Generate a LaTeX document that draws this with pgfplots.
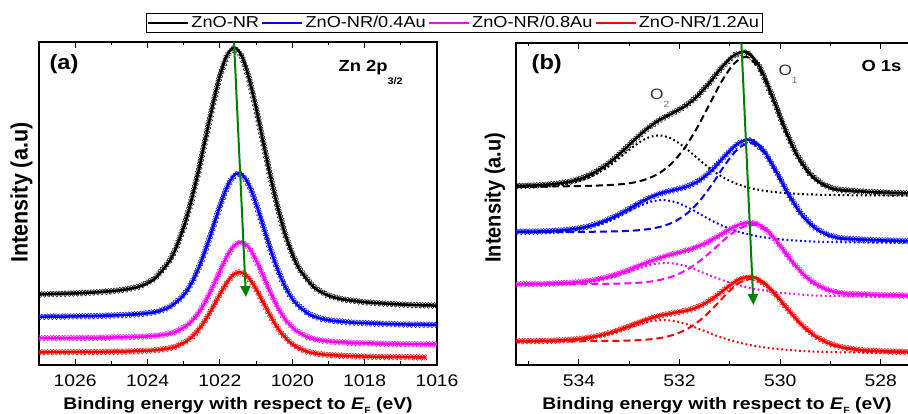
\documentclass[border=0pt]{standalone}
\usepackage{fontspec}
\setmainfont{Liberation Sans}[FakeStretch=1.15]
\newfontfamily\plainsans{Liberation Sans}
\usepackage{graphicx}
\usepackage{pgfplots}
\usepackage{pgfplotstable}
\pgfplotsset{compat=1.18}
\usetikzlibrary{arrows.meta,decorations.markings}
\definecolor{dgreen}{RGB}{0,128,0}
\definecolor{mag}{RGB}{255,0,255}
\definecolor{pblue}{RGB}{0,0,255}
\definecolor{pred}{RGB}{255,0,0}

\tikzset{
  dataA/.style={postaction={decorate, decoration={markings, mark=between positions 0 and 1 step 2.9bp with {\draw[#1, line width=0.45bp] (0bp,1.6bp) circle (1.3bp);}}}},
  dataB/.style={postaction={decorate, decoration={markings, mark=between positions 0.002 and 1 step 4.1bp with {\draw[#1, line width=0.45bp] (0bp,-1.7bp) circle (1.3bp);}}}},
}

\pgfplotsset{
  panel/.style={
    scale only axis, x dir=reverse, ytick=\empty, ymin=0,
    axis line style={line width=1.3bp},
    tick style={line width=1bp, black},
    major tick length=6bp, minor tick length=3.5bp,
    tick align=inside, xtick pos=both,
    /pgf/number format/assume math mode=true,
    /pgf/number format/set thousands separator={},
    xticklabel style={font=\fontsize{16.8bp}{18bp}\selectfont, inner sep=0pt, anchor=north, yshift=-10bp},
    clip=true,
  },
  tot/.style={line width=2.5bp, smooth, forget plot},
  pts/.style={line width=0.3bp, sharp plot, forget plot, dataA=#1, dataB=#1},
  dsh/.style={line width=2bp, smooth, dash pattern=on 7bp off 4bp, forget plot},
  dtt/.style={line width=2bp, smooth, dash pattern=on 1.8bp off 2.7bp, forget plot},
}

% ---------- Zn 2p3/2 spectra ----------
\pgfplotstableread{
x y
1027.0 70.6
1026.5 71.1
1026.0 71.6
1025.5 72.5
1025.0 73.8
1024.6 75.5
1024.2 78.7
1023.8 86.3
1023.4 103.5
1023.2 117.9
1023.0 137.5
1022.8 162.6
1022.6 192.4
1022.4 225.6
1022.2 259.1
1022.0 289.1
1021.8 310.0
1021.6 317.5
1021.4 309.2
1021.2 287.3
1021.0 256.5
1020.8 221.8
1020.6 187.6
1020.4 156.8
1020.2 130.9
1020.0 110.7
1019.8 95.5
1019.4 77.5
1019.0 69.3
1018.6 65.6
1018.0 62.8
1017.5 61.5
1017.0 60.5
1016.5 59.8
1016.0 59.4
}\lblack

\pgfplotstableread{
x y
1027 48.2
1026.21 48.5
1025.77 48.8
1025.33 49.1
1024.89 49.6
1024.455 50.4
1024.105 51.3
1023.755 53.1
1023.405 57.5
1023.055 67.5
1022.88 75.8
1022.705 87.3
1022.53 101.9
1022.355 119.3
1022.18 138.6
1022.005 158.1
1021.83 175.5
1021.655 187.7
1021.48 192
1021.305 187.1
1021.13 174.3
1020.955 156.1
1020.78 135.8
1020.605 115.7
1020.43 97.7
1020.255 82.5
1020.08 70.6
1019.905 61.7
1019.555 51.1
1019.205 46.3
1018.855 44.1
1018.33 42.4
1017.89 41.7
1017.455 41.1
1017.02 40.6
1016.58 40.4
1016 40.1
}\lblue

\pgfplotstableread{
x y
1027 26.8
1025.875 27.0
1025.46 27.2
1025.05 27.4
1024.64 27.8
1024.225 28.2
1023.895 28.8
1023.565 30.1
1023.235 33.0
1022.905 39.7
1022.74 45.3
1022.575 52.9
1022.41 62.7
1022.245 74.3
1022.08 87.2
1021.915 100.3
1021.75 112.0
1021.585 120.1
1021.42 123
1021.255 119.7
1021.09 111.0
1020.925 98.9
1020.76 85.2
1020.595 71.7
1020.43 59.5
1020.265 49.3
1020.10 41.3
1019.935 35.3
1019.605 28.2
1019.275 24.9
1018.945 23.4
1018.45 22.4
1018.0375 21.8
1017.625 21.4
1017.2125 21.1
1016.8 20.9
1016 20.6
}\lmag

\pgfplotstableread{
x y
1027 12.7
1025.905 12.9
1025.49 13.0
1025.08 13.2
1024.67 13.4
1024.255 13.9
1023.925 14.4
1023.595 15.5
1023.265 17.8
1022.935 23.4
1022.77 28.2
1022.605 34.5
1022.44 42.6
1022.275 52.4
1022.11 63.2
1021.945 74.1
1021.78 83.8
1021.615 90.6
1021.45 93.0
1021.285 90.2
1021.12 83.0
1020.955 72.9
1020.79 61.5
1020.625 50.2
1020.46 40.0
1020.295 31.5
1020.13 24.9
1019.965 19.8
1019.635 13.8
1019.305 11.2
1018.975 9.9
1018.48 9.0
1018.0675 8.5
1017.655 8.1
1017.2425 7.9
1016.83 7.8
1016.3 7.6
}\lred

% ---------- O 1s spectra: x, total, O1 component, O2 component ----------
\pgfplotstableread{
x t a b
535.41 178.8 178.0 177.8
535.16 179.1 178.1 178.0
534.91 179.5 178.2 178.3
534.66 180.2 178.4 178.8
534.41 181.4 178.6 179.8
534.16 183.5 178.8 181.8
533.91 187.3 179.0 185.2
533.66 193.2 179.4 190.8
533.41 201.6 179.9 198.6
533.16 212.4 180.8 208.5
532.91 224.3 182.5 218.7
532.66 235.6 185.8 226.6
532.41 244.6 191.6 229.6
532.16 251.3 201.4 226.4
531.91 258.1 216.3 218.1
531.66 268.0 236.4 207.5
531.41 281.8 260.1 197.1
531.16 297.6 283.8 188.5
530.91 309.9 301.7 182.1
530.66 312.8 308.0 177.8
530.41 298.5 295.7 175.0
530.16 269.1 267.3 173.2
529.91 236.5 235.2 172.0
529.66 209.3 208.3 171.1
529.41 191.1 190.3 170.6
529.16 180.9 180.2 170.2
528.91 175.8 175.2 170.0
528.66 174.5 174.0 169.8
528.41 173.6 173.1 169.6
528.16 172.9 172.5 169.6
527.91 172.4 172.1 169.5
527.66 172.0 171.6 169.4
527.41 171.6 171.3 169.3
527.16 171.3 171.0 169.2
}\tblack

\pgfplotstableread{
x t a b
535.33 133.1 132.6 132.5
535.08 133.3 132.6 132.6
534.83 133.5 132.7 132.8
534.58 133.9 132.8 133.2
534.33 134.7 132.9 133.8
534.08 136.0 133.0 135.0
533.83 138.3 133.1 137.2
533.58 142.1 133.4 140.7
533.33 147.3 133.6 145.6
533.08 153.9 134.0 151.8
532.83 161.1 134.7 158.2
532.58 167.6 136.2 163.1
532.33 172.3 138.9 165.0
532.08 175.3 143.9 162.8
531.83 178.8 152.4 157.5
531.58 185.2 165.3 150.5
531.33 196.1 182.4 143.6
531.08 210.0 201.3 137.8
530.83 221.7 216.5 133.3
530.58 225.0 222.0 130.0
530.33 214.7 212.9 127.7
530.08 193.6 192.4 126.1
529.83 170.3 169.5 124.9
529.58 150.9 150.3 124.0
529.33 137.9 137.4 123.4
529.08 130.6 130.1 123.1
528.83 126.9 126.5 122.8
528.58 126.0 125.6 122.6
528.33 125.3 125.0 122.5
528.08 124.8 124.5 122.4
527.83 124.4 124.2 122.3
527.58 124.1 123.9 122.3
527.33 123.8 123.6 122.2
527.08 123.6 123.4 122.1
}\tblue

\pgfplotstableread{
x t a b
535.5 80.7 80.4 80.4
535.25 80.8 80.5 80.4
535.0 81.0 80.5 80.4
534.75 81.1 80.6 80.6
534.5 81.5 80.7 80.8
534.25 82.0 80.8 81.2
534.0 82.9 80.9 82.0
533.75 84.5 81.0 83.5
533.5 87.0 81.2 85.9
533.25 90.6 81.3 89.1
533.0 95.2 81.7 93.2
532.75 100.3 82.5 97.5
532.5 105.2 84.0 100.8
532.25 109.3 86.8 102.0
532.0 112.6 91.5 100.5
531.75 116.2 98.5 96.7
531.5 121.3 107.9 91.7
531.25 128.2 118.9 86.7
531.0 135.7 129.9 82.4
530.75 141.3 137.8 78.8
530.5 142.0 140.0 76.0
530.25 134.3 133.1 73.9
530.0 119.2 118.4 72.3
529.75 102.6 102.0 71.1
529.5 88.8 88.4 70.1
529.25 79.5 79.1 69.4
529.0 74.2 73.9 69.0
528.75 71.6 71.3 68.7
528.5 70.9 70.7 68.6
528.25 70.4 70.2 68.4
528.0 70.0 69.8 68.4
527.75 69.7 69.6 68.3
527.5 69.5 69.3 68.2
527.25 69.2 69.1 68.1
527.0 69.0 68.9 68.0
}\tmag

\pgfplotstableread{
x t a b
535.30 23.8 23.4 23.4
535.05 23.9 23.5 23.4
534.80 24.0 23.5 23.6
534.55 24.3 23.6 23.8
534.30 24.8 23.6 24.2
534.05 25.7 23.7 25.0
533.80 27.3 23.8 26.5
533.55 29.8 24.0 28.9
533.30 33.3 24.1 32.1
533.05 37.8 24.4 36.3
532.80 42.7 24.9 40.5
532.55 47.1 25.9 43.8
532.30 50.3 27.8 45.0
532.05 52.6 31.4 43.5
531.80 55.1 37.4 39.8
531.55 59.9 46.5 34.9
531.30 67.8 58.6 29.9
531.05 77.7 71.9 25.7
530.80 86.0 82.5 22.2
530.55 88.0 86.0 19.5
530.30 81.3 80.1 17.5
530.05 68.0 67.3 16.0
529.80 52.7 52.2 14.9
529.55 39.0 38.5 14.0
529.30 28.7 28.3 13.4
529.05 22.0 21.7 13.0
528.80 18.0 17.7 12.7
528.55 15.8 15.6 12.6
528.30 14.5 14.3 12.4
528.05 13.9 13.7 12.4
527.80 13.5 13.3 12.3
527.55 13.2 13.1 12.2
527.30 12.9 12.8 12.1
527.05 12.8 12.7 12.0
}\tred

\begin{document}
\begin{tikzpicture}
\useasboundingbox (0,0) rectangle (908bp,414bp);

% ---------------- panel (a) ----------------
\begin{axis}[panel,
  at={(39bp,49bp)}, anchor=south west,
  width=398bp, height=323bp,
  xmin=1016, xmax=1027, ymax=323,
  xtick={1016,1018,1020,1022,1024,1026},
  minor xtick={1017,1019,1021,1023,1025},
  xlabel={\bfseries Binding energy with respect to \textit{E}\raisebox{-4bp}{\fontsize{9bp}{9bp}\selectfont F} (eV)},
  xlabel style={at={(axis description cs:0.5,0)}, anchor=base, yshift=-44bp, font=\fontsize{16.8bp}{18bp}\selectfont},
  ylabel={\scalebox{1}[1.1]{\plainsans\bfseries\fontsize{21.5bp}{22bp}\selectfont Intensity (a.u)}},
  ylabel style={at={(axis description cs:0,0.534)}, anchor=center, yshift=17.5bp},
  legend style={at={(axis description cs:1.0427,1.0588)}, anchor=center,
    legend columns=4, draw=black, line width=0.8bp, fill=white,
    font=\fontsize{15.8bp}{17bp}\selectfont, inner sep=1bp},
  legend cell align=left,
  legend image code/.code={\draw[#1, line width=2.5bp] (0bp,0bp) -- (40bp,0bp);},
]
\addlegendimage{black}\addlegendentry{ZnO-NR}
\addlegendimage{pblue}\addlegendentry{ZnO-NR/0.4Au}
\addlegendimage{mag}\addlegendentry{ZnO-NR/0.8Au}
\addlegendimage{pred}\addlegendentry{ZnO-NR/1.2Au}

\addplot[black, tot] table[x=x,y=y]{\lblack};
\addplot[black, pts=black] table[x=x,y=y]{\lblack};
\addplot[pblue, tot] table[x=x,y=y]{\lblue};
\addplot[pblue, pts=pblue] table[x=x,y=y]{\lblue};
\addplot[mag, tot] table[x=x,y=y]{\lmag};
\addplot[mag, pts=mag] table[x=x,y=y]{\lmag};
\addplot[pred, tot] table[x=x,y=y]{\lred};
\addplot[pred, pts=pred] table[x=x,y=y]{\lred};

\addplot[dgreen, line width=2bp, forget plot, -{Triangle[length=11bp, width=10bp]}] coordinates {(1021.61,323) (1021.28,68)};

\node[anchor=center, font=\fontsize{20.5bp}{22bp}\selectfont\bfseries] at (axis description cs:0.0628,0.930) {(a)};
\node[anchor=base west, font=\fontsize{16bp}{18bp}\selectfont\bfseries] at (axis description cs:0.7437,0.908) {Zn 2p\raisebox{-13bp}{\fontsize{9.5bp}{10bp}\selectfont 3/2}};
\end{axis}

% ---------------- panel (b) ----------------
\begin{axis}[panel,
  at={(516bp,49bp)}, anchor=south west,
  width=402bp, height=322bp,
  xmin=527.26, xmax=535.25, ymax=322,
  xtick={528,530,532,534},
  minor xtick={527,529,531,533,535},
  xlabel={\bfseries Binding energy with respect to \textit{E}\raisebox{-4bp}{\fontsize{9bp}{9bp}\selectfont F} (eV)},
  xlabel style={at={(axis description cs:0.5,0)}, anchor=base, yshift=-44bp, font=\fontsize{16.8bp}{18bp}\selectfont},
  ylabel={\scalebox{1}[1.1]{\plainsans\bfseries\fontsize{20bp}{22bp}\selectfont Intensity (a.u)}},
  ylabel style={at={(axis description cs:0,0.52)}, anchor=center, yshift=21bp},
]
\addplot[black, dsh] table[x=x,y=a]{\tblack};
\addplot[black, dtt] table[x=x,y=b]{\tblack};
\addplot[pblue, dsh] table[x=x,y=a]{\tblue};
\addplot[pblue, dtt] table[x=x,y=b]{\tblue};
\addplot[mag, dsh] table[x=x,y=a]{\tmag};
\addplot[mag, dtt] table[x=x,y=b]{\tmag};
\addplot[pred, dsh] table[x=x,y=a]{\tred};
\addplot[pred, dtt] table[x=x,y=b]{\tred};
\addplot[black, tot] table[x=x,y=t]{\tblack};
\addplot[black, pts=black] table[x=x,y=t]{\tblack};
\addplot[pblue, tot] table[x=x,y=t]{\tblue};
\addplot[pblue, pts=pblue] table[x=x,y=t]{\tblue};
\addplot[mag, tot] table[x=x,y=t]{\tmag};
\addplot[mag, pts=mag] table[x=x,y=t]{\tmag};
\addplot[pred, tot] table[x=x,y=t]{\tred};
\addplot[pred, pts=pred] table[x=x,y=t]{\tred};

\addplot[dgreen, line width=2bp, forget plot, -{Triangle[length=11bp, width=10bp]}] coordinates {(530.77,322) (530.53,60)};

\node[anchor=center, font=\fontsize{20.5bp}{22bp}\selectfont\bfseries] at (axis description cs:0.0764,0.935) {(b)};
\node[anchor=base west, font=\fontsize{16bp}{18bp}\selectfont\bfseries] at (axis description cs:0.8507,0.9115) {O 1s};
\node[anchor=base west, font=\fontsize{15bp}{17bp}\selectfont, text=black!80] at (axis description cs:0.3251,0.823) {O\raisebox{-8bp}{\fontsize{9bp}{10bp}\selectfont\color{black!55}2}};
\node[anchor=base west, font=\fontsize{15bp}{17bp}\selectfont, text=black!80] at (axis description cs:0.6443,0.9006) {O\raisebox{-8bp}{\fontsize{9bp}{10bp}\selectfont\color{black!55}1}};
\end{axis}
\end{tikzpicture}
\end{document}
